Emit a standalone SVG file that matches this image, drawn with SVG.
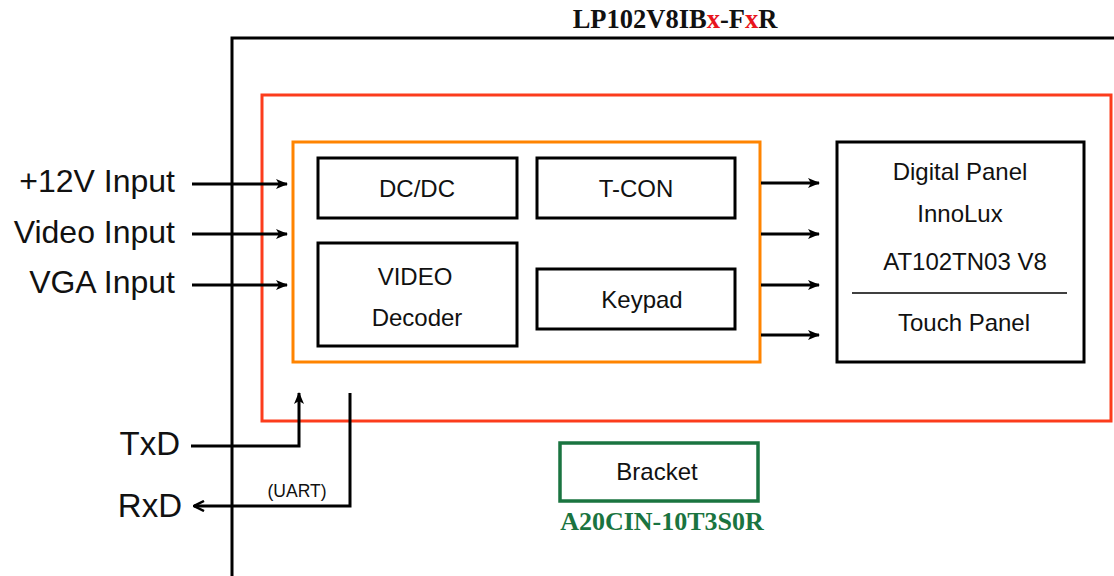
<svg xmlns="http://www.w3.org/2000/svg" width="1114" height="576" viewBox="0 0 1114 576">
<style>
.s{font-family:"Liberation Sans",Arial,sans-serif;fill:#111}
.b{fill:none;stroke:#000;stroke-width:3}
.w{stroke:#000;stroke-width:3;fill:none}
.tt{font-family:"Liberation Serif","Times New Roman",serif;font-weight:bold}
</style>
<defs>
<marker id="ah" viewBox="0 0 12 10" refX="11" refY="5" markerWidth="12" markerHeight="10" markerUnits="userSpaceOnUse" orient="auto">
<path d="M0,0 L12,5 L0,10 L3,5 Z" fill="#000"/>
</marker>
<marker id="oh" viewBox="0 0 12 12" refX="11" refY="6" markerWidth="12" markerHeight="12" markerUnits="userSpaceOnUse" orient="auto">
<path d="M1,1 L11,6 L1,11" fill="none" stroke="#000" stroke-width="2.5"/>
</marker>
</defs>
<rect width="1114" height="576" fill="#fff"/>
<g id="frame">
<path d="M232,576 V38 H1114" class="w"/>
<text x="675" y="28" class="tt" font-size="26.5" text-anchor="middle" fill="#111">LP102V8IB<tspan fill="#e8141c">x</tspan>-F<tspan fill="#e8141c">x</tspan>R</text>
</g>
<g id="module">
<rect x="262" y="95" width="849" height="326" fill="none" stroke="#fc3c1c" stroke-width="3"/>
</g>
<g id="board">
<rect x="293" y="142" width="467" height="220" fill="none" stroke="#ff8400" stroke-width="3"/>
</g>
<g id="dcdc"><rect x="318" y="158" width="199" height="60" class="b"/><text x="417" y="197" class="s" font-size="24" text-anchor="middle">DC/DC</text></g>
<g id="tcon"><rect x="537" y="158" width="198" height="60" class="b"/><text x="636" y="197" class="s" font-size="24" text-anchor="middle">T-CON</text></g>
<g id="video"><rect x="318" y="243" width="199" height="103" class="b"/><text x="415" y="285" class="s" font-size="24" text-anchor="middle">VIDEO</text><text x="417" y="326" class="s" font-size="24" text-anchor="middle">Decoder</text></g>
<g id="keypad"><rect x="537" y="269" width="198" height="60" class="b"/><text x="642" y="308" class="s" font-size="24" text-anchor="middle">Keypad</text></g>
<g id="panel"><rect x="837" y="142" width="247" height="220" class="b"/>
<text x="960" y="180" class="s" font-size="24" text-anchor="middle">Digital Panel</text>
<text x="960" y="222" class="s" font-size="24" text-anchor="middle">InnoLux</text>
<text x="965" y="270" class="s" font-size="24" text-anchor="middle">AT102TN03 V8</text>
<line x1="852" y1="293" x2="1067" y2="293" stroke="#000" stroke-width="1.5"/>
<text x="964" y="331" class="s" font-size="24" text-anchor="middle">Touch Panel</text></g>
<g id="bracket"><rect x="560" y="443" width="198" height="58" fill="none" stroke="#1a7440" stroke-width="3.5"/>
<text x="657" y="480" class="s" font-size="24" text-anchor="middle">Bracket</text>
<text x="662" y="530" class="tt" font-size="26" text-anchor="middle" fill="#1a7440">A20CIN-10T3S0R</text></g>
<g id="labels">
<text x="175" y="192" class="s" font-size="32" text-anchor="end">+12V Input</text>
<text x="175" y="243" class="s" font-size="32" text-anchor="end">Video Input</text>
<text x="175" y="293" class="s" font-size="32" text-anchor="end">VGA Input</text>
<text x="180" y="455" class="s" font-size="33" text-anchor="end">TxD</text>
<text x="182" y="517" class="s" font-size="33" text-anchor="end">RxD</text>
<text x="297" y="497" class="s" font-size="17.5" text-anchor="middle">(UART)</text>
</g>
<g id="connectors" stroke="#000" stroke-width="3" fill="none">
<line x1="192" y1="184" x2="287" y2="184" marker-end="url(#ah)"/>
<line x1="192" y1="234" x2="287" y2="234" marker-end="url(#ah)"/>
<line x1="192" y1="285" x2="287" y2="285" marker-end="url(#ah)"/>
<line x1="761" y1="183" x2="819" y2="183" marker-end="url(#ah)"/>
<line x1="761" y1="234" x2="819" y2="234" marker-end="url(#ah)"/>
<line x1="761" y1="285" x2="819" y2="285" marker-end="url(#ah)"/>
<line x1="761" y1="335" x2="819" y2="335" marker-end="url(#ah)"/>
<path d="M191,446 H299 V393" marker-end="url(#ah)"/>
<path d="M350,393 V506 H194" marker-end="url(#oh)"/>
</g>
</svg>
